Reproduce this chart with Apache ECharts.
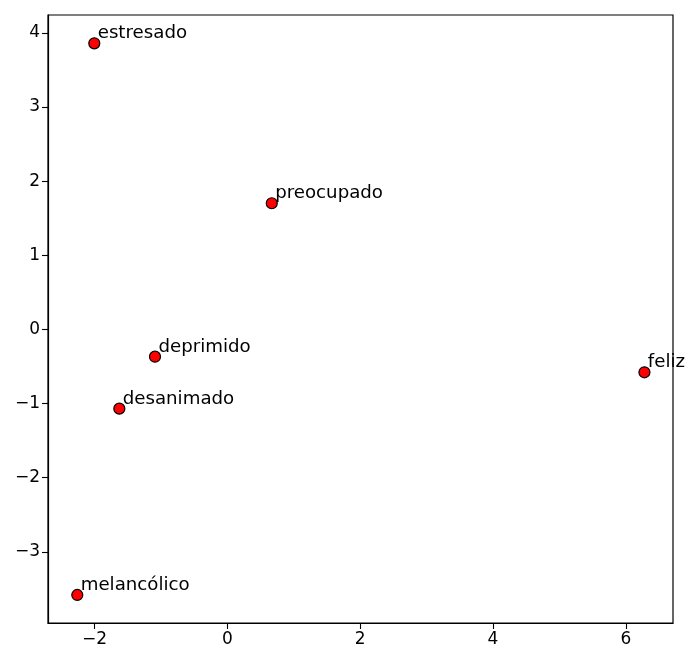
<!DOCTYPE html>
<html>
<head>
<meta charset="utf-8">
<script src="https://cdn.jsdelivr.net/npm/echarts@6/dist/echarts.min.js"></script>
<style>html,body{margin:0;padding:0;background:#fff;}#c{width:686px;height:652px;}</style>
</head>
<body>
<div id="c"></div>
<script>
const words = ['estresado', 'preocupado', 'deprimido', 'desanimado', 'melancólico', 'feliz'];
const xValues = [-2.003, 0.669, -1.089, -1.626, -2.259, 6.28];
const yValues = [3.858, 1.701, -0.368, -1.069, -3.582, -0.579];
const xTicks = [-2, 0, 2, 4, 6];
const yTicks = [-3, -2, -1, 0, 1, 2, 3, 4];

const data = words.map((w, i) => ({ name: w, value: [xValues[i], yValues[i]] }));
const font = 'DejaVu Sans';
const fmt = v => String(v).replace('-', '\u2212');

const chart = echarts.init(document.getElementById('c'), null, { renderer: 'canvas' });
chart.setOption({
  animation: false,
  backgroundColor: '#fff',
  grid: { left: 48, right: 13, top: 15, bottom: 29, show: true, borderColor: '#000', borderWidth: 1.2, backgroundColor: 'transparent' },
  xAxis: {
    type: 'value', min: -2.70, max: 6.71,
    splitLine: { show: false },
    axisLine: { show: true, onZero: false, lineStyle: { color: '#000', width: 1.2 } },
    axisTick: { show: true, inside: false, length: 6, lineStyle: { color: '#000', width: 1.1 }, customValues: xTicks },
    axisLabel: { show: true, color: '#000', fontFamily: font, fontSize: 17, margin: 8, formatter: fmt, customValues: xTicks }
  },
  yAxis: {
    type: 'value', min: -3.96, max: 4.24,
    splitLine: { show: false },
    axisLine: { show: true, onZero: false, lineStyle: { color: '#000', width: 1.2 } },
    axisTick: { show: true, inside: false, length: 6, lineStyle: { color: '#000', width: 1.1 }, customValues: yTicks },
    axisLabel: { show: true, color: '#000', fontFamily: font, fontSize: 17, margin: 8, formatter: fmt, customValues: yTicks }
  },
  series: [{
    type: 'scatter',
    data: data,
    symbol: 'circle',
    symbolSize: 11,
    itemStyle: { color: '#ff0000', borderColor: '#000', borderWidth: 1.2, opacity: 1 },
    label: {
      show: true,
      formatter: p => p.name,
      position: [9.5, 5.5],
      align: 'left',
      verticalAlign: 'bottom',
      color: '#000',
      fontFamily: font,
      fontSize: 18.2
    }
  }]
});
</script>
</body>
</html>
